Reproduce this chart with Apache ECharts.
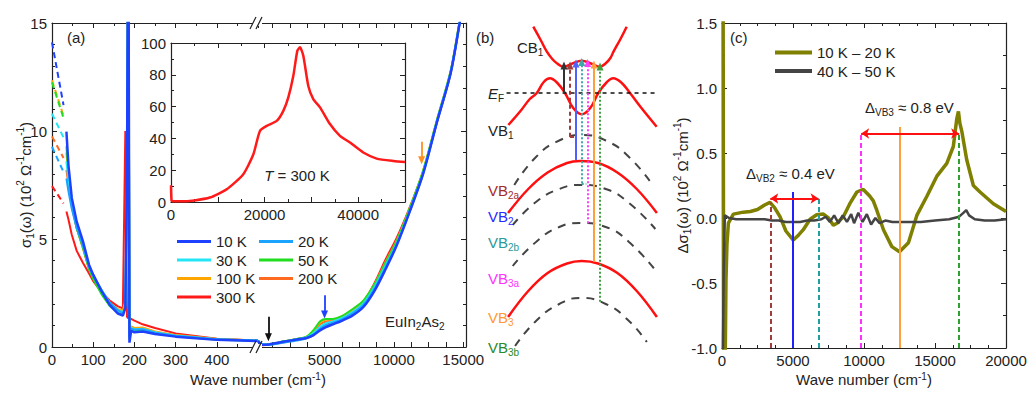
<!DOCTYPE html>
<html>
<head>
<meta charset="utf-8">
<script src="https://cdn.jsdelivr.net/npm/echarts@6/dist/echarts.min.js"></script>
<style>
html, body { margin: 0; padding: 0; background: #fff; }
#chart { width: 1036px; height: 396px; }
</style>
</head>
<body>
<div id="chart"></div>
<script>
// ---- (a) sigma1 for each temperature ----
var temps = ['10 K', '20 K', '30 K', '50 K', '100 K', '200 K', '300 K'];
var tempColors = ['#1e40ff', '#1aa3ff', '#22e5f5', '#20dd20', '#ffa500', '#ff6a20', '#ff1a1a'];

// low frequency extrapolation (dashed)
var extrapW = [0, 28];
var extrapVals = [[14.1, 11.2], [9.27, 8.1], [10.8, 9.7], [12.25, 10.6], [12.35, 10.7], [9.75, 8.75], [7.45, 6.65]];

// far infrared part, left of the axis break
var farW = [35, 40, 48, 60, 75, 90, 100, 120, 140, 160, 172, 178, 182, 184, 186, 188, 192, 200, 220, 250, 300, 400, 500];
var farVals = [
	[9.97, 8.4, 6.9, 5.8, 4.9, 3.8, 3.35, 2.6, 1.95, 1.55, 1.45, 1.8, 8.0, 16, 16, 0.2, 0.75, 0.68, 0.72, 0.6, 0.48, 0.33, 0.28],
	[7.8, 7.2, 6.4, 5.5, 4.7, 3.7, 3.3, 2.65, 2.05, 1.7, 1.55, 1.9, 7.5, 16, 16, 0.45, 0.85, 0.8, 0.82, 0.66, 0.52, 0.36, 0.3],
	[8.6, 7.7, 6.6, 5.6, 4.75, 3.7, 3.3, 2.65, 2.05, 1.7, 1.6, 1.95, 7.5, 16, 16, 0.5, 0.88, 0.82, 0.85, 0.68, 0.53, 0.36, 0.3],
	[9.3, 8.0, 6.6, 5.5, 4.6, 3.6, 3.15, 2.45, 1.9, 1.58, 1.5, 1.85, 7.8, 16, 16, 0.35, 0.8, 0.74, 0.78, 0.63, 0.5, 0.34, 0.29],
	[9.0, 7.9, 6.6, 5.5, 4.6, 3.6, 3.2, 2.55, 2.0, 1.75, 1.7, 2.1, 7.0, 16, 16, 0.6, 0.95, 0.88, 0.9, 0.72, 0.55, 0.37, 0.3],
	[8.2, 7.5, 6.5, 5.5, 4.6, 3.6, 3.2, 2.55, 2.05, 1.72, 1.65, 2.0, 7.0, 16, 16, 0.55, 0.9, 0.85, 0.88, 0.7, 0.55, 0.37, 0.3],
	[6.27, 5.9, 5.2, 4.45, 3.9, 3.4, 3.05, 2.55, 2.15, 1.88, 1.79, 10.0, 1.4, 1.35, 1.33, 1.32, 1.3, 1.22, 1.05, 0.88, 0.63, 0.38, 0.3]
];

// mid / near infrared part, right of the break
var nearW = [200, 500, 1000, 2000, 3000, 3700, 4200, 4700, 5100, 5600, 6200, 7000, 7800, 8600, 9400, 10200, 11100, 12100, 13100, 14100, 14800, 15200];
var nearVals = [
	[0.28, 0.1, 0.12, 0.24, 0.35, 0.42, 0.55, 0.78, 0.92, 1.05, 1.2, 1.45, 1.85, 2.6, 3.6, 4.7, 6.2, 8.0, 10.4, 12.7, 15.2, 16.5],
	[0.3, 0.12, 0.1, 0.2, 0.3, 0.4, 0.58, 0.85, 1.0, 1.12, 1.27, 1.55, 1.95, 2.7, 3.7, 4.75, 6.2, 8.0, 10.4, 12.7, 15.2, 16.5],
	[0.3, 0.13, 0.12, 0.24, 0.36, 0.45, 0.65, 0.95, 1.1, 1.18, 1.32, 1.62, 2.02, 2.78, 3.78, 4.8, 6.25, 8.05, 10.45, 12.75, 15.2, 16.5],
	[0.29, 0.12, 0.13, 0.25, 0.37, 0.48, 0.78, 1.2, 1.3, 1.3, 1.42, 1.75, 2.15, 2.9, 3.9, 4.9, 6.35, 8.15, 10.5, 12.8, 15.3, 16.5],
	[0.3, 0.12, 0.12, 0.25, 0.37, 0.47, 0.75, 1.15, 1.27, 1.28, 1.4, 1.72, 2.12, 2.88, 3.9, 4.9, 6.35, 8.15, 10.5, 12.8, 15.3, 16.5],
	[0.3, 0.12, 0.12, 0.24, 0.36, 0.45, 0.68, 1.05, 1.18, 1.22, 1.36, 1.68, 2.1, 2.9, 3.95, 4.95, 6.35, 8.1, 10.45, 12.75, 15.2, 16.5],
	[0.3, 0.08, 0.1, 0.22, 0.33, 0.42, 0.55, 0.85, 1.02, 1.15, 1.3, 1.62, 2.1, 2.95, 4.05, 5.05, 6.4, 8.1, 10.4, 12.7, 15.2, 16.5]
];
var nearTicks = [1250, 2500, 3750, 5000, 6250, 7500, 8750, 10000, 11250, 12500, 13750, 15000];
var nearLabels = [5000, 10000, 15000];

// inset: 300 K over the full range
var insetW = [0, 120, 400, 2000, 5000, 8300, 11900, 15450, 17600, 19000, 20450, 22600, 24000, 25070, 26140, 27000, 27560, 28270, 29340, 30400, 31840, 33970, 36100, 38250, 41090, 43950, 47500, 50000];
var insetVals = [10.5, 0.8, 0.4, 0.4, 1.0, 2.8, 8.0, 17.5, 30, 44.7, 47.9, 51, 57.3, 65.8, 79.4, 95.2, 97.3, 92, 73, 64.7, 59.5, 49, 41.6, 37.4, 31.1, 27.3, 25.8, 25.2];

// ---- (b) band sketch, k vs E (E_F = 0) ----
var bandCB1 = [[-0.635, 6.63], [-0.54, 5.3], [-0.46, 4.13], [-0.39, 3.4], [-0.33, 2.97], [-0.25, 2.63], [-0.13, 2.95], [-0.01, 3.23], [0.11, 2.95], [0.226, 2.63], [0.3, 2.97], [0.36, 3.5], [0.4, 4.13], [0.49, 5.4], [0.57, 6.63]];
var bandVB1 = [[-0.957, -3.2], [-0.8, -1.8], [-0.68, -0.6], [-0.59, 0], [-0.5, 1.1], [-0.42, 1.47], [-0.33, 1.05], [-0.226, 0], [-0.12, -1.5], [-0.01, -2.13], [0.1, -1.5], [0.204, 0], [0.31, 1.05], [0.397, 1.47], [0.5, 1.05], [0.613, 0], [0.75, -1.4], [0.957, -3.37]];
var bandVB2 = [[-0.96, -12.0], [-0.7, -9.6], [-0.45, -7.95], [-0.2, -7.0], [-0.03, -6.8], [0.2, -7.0], [0.45, -7.95], [0.7, -9.6], [0.96, -12.0]];
var bandVB3 = [[-0.96, -22.4], [-0.7, -19.8], [-0.45, -18.0], [-0.2, -17.05], [-0.01, -16.8], [0.2, -17.05], [0.45, -18.0], [0.7, -19.8], [0.96, -22.4]];
var bandVB2a = [[-0.88, -9.2], [-0.6, -6.4], [-0.3, -4.75], [0.0, -4.2], [0.3, -4.75], [0.6, -6.4], [0.92, -9.35]];
var bandVB2b = [[-0.9, -13.2], [-0.6, -10.9], [-0.3, -9.6], [-0.03, -9.2], [0.3, -9.6], [0.6, -11.0], [0.94, -13.6]];
var bandVB3a = [[-0.9, -17.3], [-0.6, -14.9], [-0.3, -13.4], [-0.03, -13.0], [0.3, -13.4], [0.6, -14.9], [0.97, -18.0]];
var bandVB3b = [[-0.87, -25.3], [-0.6, -22.8], [-0.3, -21.1], [-0.03, -20.5], [0.3, -21.1], [0.6, -22.8], [0.83, -24.9]];
var fermiK = [-0.98, 0.94];

var transK = [-0.239, -0.161, -0.084, -0.01, 0.067, 0.148, 0.226];
var transFrom = [0, -4.37, -6.7, -9.03, -13.03, -16.87, -20.87];
var transTo = [2.75, 2.75, 2.95, 3.1, 3.0, 2.85, 2.65];
var transColors = ['#333333', '#a33b3b', '#5060ff', '#40a8a8', '#ff40ff', '#ffa040', '#40a040'];
var transTypes = ['solid', [4, 3], 'solid', 'dotted', 'dotted', 'solid', 'dotted'];

// ---- (c) difference spectra ----
var diff10to20 = [[0, 1.6], [80, 1.6], [120, -1.05], [230, -1.05], [280, -0.48], [350, -0.2], [450, -0.04], [800, 0.03], [1500, 0.045], [2000, 0.05], [2500, 0.065], [3000, 0.1], [3380, 0.12], [3700, 0.08], [4085, 0.01], [4500, -0.1], [5020, -0.17], [5400, -0.13], [5725, -0.09], [6200, -0.01], [6670, 0.025], [7140, 0.03], [7500, 0.0], [7840, -0.055], [8100, -0.04], [8545, 0.01], [9000, 0.11], [9500, 0.2], [9950, 0.22], [10400, 0.17], [10660, 0.13], [10900, 0.06], [11370, -0.09], [11960, -0.22], [12500, -0.26], [13130, -0.19], [13720, 0.02], [14420, 0.165], [15120, 0.32], [15830, 0.42], [16290, 0.55], [16530, 0.76], [16650, 0.82], [16750, 0.73], [16900, 0.66], [17230, 0.45], [17700, 0.25], [18170, 0.2], [19110, 0.11], [20000, 0.05]];
var diff40to50 = [[0, -1.05], [60, -1.05], [120, -0.4], [200, 0.02], [500, 0.0], [1000, -0.01], [2000, -0.01], [3000, -0.01], [3500, -0.02], [4000, -0.02], [4500, -0.03], [5000, -0.03], [5500, -0.03], [6000, -0.02], [6500, -0.02], [7000, -0.01], [7300, 0.01], [7600, -0.03], [7900, 0.02], [8200, -0.04], [8500, 0.02], [8800, -0.03], [9100, 0.03], [9300, -0.04], [9600, 0.04], [9900, -0.03], [10200, 0.03], [10500, -0.05], [10800, 0.0], [11100, -0.04], [11500, -0.02], [12000, -0.03], [13000, -0.03], [14000, -0.03], [15000, -0.02], [16000, -0.01], [16700, 0.01], [17000, 0.04], [17200, 0.06], [17400, 0.02], [17800, -0.01], [18500, -0.02], [19200, -0.02], [20000, -0.01]];

var gapW = [3400, 5000, 6800, 9800, 12500, 16700];
var gapTop = [0.12, 0.2, 0.15, 0.65, 0.7, 0.65];
var gapColors = ['#a03c3c', '#2020ff', '#20a0a0', '#ff30ff', '#ffa040', '#30a030'];
var gapTypes = [[5, 3], 'solid', [5, 3], [5, 3], 'solid', [5, 3]];


var FONT = '"Liberation Sans", Arial, sans-serif';
var ink = '#222';
var rich = {
	sub: { fontSize: 10, lineHeight: 10, verticalAlign: 'bottom', fontFamily: FONT },
	sup: { fontSize: 10, lineHeight: 10, verticalAlign: 'top', fontFamily: FONT },
	i: { fontStyle: 'italic', fontSize: 15, fontFamily: FONT }
};

function pairs(xs, ys) {
	return xs.map(function (x, i) { return [x, ys[i]]; });
}

function merge(a, b) {
	for (var k in b) {
		if (b[k] && typeof b[k] === 'object' && !Array.isArray(b[k]) && a[k] && typeof a[k] === 'object') {
			merge(a[k], b[k]);
		} else {
			a[k] = b[k];
		}
	}
	return a;
}

function plain(v) {
	return String(v);
}

function axis(extra) {
	return merge({
		type: 'value',
		nameMoveOverlap: false,
		axisLine: { show: true, onZero: false, lineStyle: { color: ink, width: 1.2 } },
		axisTick: { show: true, inside: true, length: 5, lineStyle: { color: ink, width: 1 } },
		minorTick: { show: false, length: 3, lineStyle: { color: ink, width: 1 } },
		splitLine: { show: false },
		minorSplitLine: { show: false },
		axisLabel: { show: true, color: ink, fontSize: 15, fontFamily: FONT, margin: 5, formatter: plain },
		axisPointer: { show: false }
	}, extra);
}

function grid(l, t, w, h) {
	return { left: l, top: t, width: w, height: h, containLabel: false, outerBoundsMode: 'none' };
}

function text(x, y, str, color, align, lh) {
	return {
		type: 'text', z: 100,
		style: {
			x: x, y: y, text: str, fill: color || ink, font: '15px ' + FONT, fontSize: 15, fontFamily: FONT,
			lineHeight: lh || 20, align: align || 'left', textAlign: align || 'left',
			verticalAlign: 'middle', textVerticalAlign: 'middle', rich: rich
		}
	};
}

function breakMark(y) {
	return [
		{ type: 'rect', z: 100, shape: { x: 253, y: y - 3, width: 9, height: 6 }, style: { fill: '#fff' } },
		{ type: 'line', z: 101, shape: { x1: 250, y1: y + 6, x2: 256, y2: y - 6 }, style: { stroke: ink, lineWidth: 1.2 } },
		{ type: 'line', z: 101, shape: { x1: 256, y1: y + 6, x2: 262, y2: y - 6 }, style: { stroke: ink, lineWidth: 1.2 } }
	];
}

function vline(x, y1, y2, color, type, width, arrow) {
	return [
		{ coord: [x, y1], symbol: 'none', lineStyle: { color: color, type: type, width: width }, itemStyle: { color: color } },
		{ coord: [x, y2], symbol: arrow ? 'triangle' : 'none', symbolSize: arrow ? [7, 8] : 0 }
	];
}

var markBase = { silent: true, animation: false, label: { show: false }, emphasis: { disabled: true } };

// series
var series = [];
var order = [6, 5, 4, 3, 2, 1, 0];
order.forEach(function (i) {
	series.push({
		name: temps[i], type: 'line', xAxisIndex: 0, yAxisIndex: 0,
		data: pairs(farW, farVals[i]), symbol: 'none',
		lineStyle: { color: tempColors[i], width: i === 0 ? 2.5 : 2 }, itemStyle: { color: tempColors[i] }
	});
});
order.forEach(function (i) {
	series.push({
		name: temps[i], type: 'line', xAxisIndex: 2, yAxisIndex: 1,
		data: pairs(nearW, nearVals[i]), symbol: 'none', smooth: 0.3,
		lineStyle: { color: tempColors[i], width: i === 0 ? 2.5 : 2 }, itemStyle: { color: tempColors[i] }
	});
});
order.forEach(function (i) {
	series.push({
		name: temps[i], type: 'line', xAxisIndex: 0, yAxisIndex: 0,
		data: pairs(extrapW, extrapVals[i]), symbol: 'none',
		lineStyle: { color: tempColors[i], width: 2, type: [6, 4] }, itemStyle: { color: tempColors[i] }
	});
});

// arrows of panel (a)
series.push({
	type: 'line', xAxisIndex: 2, yAxisIndex: 1, data: [[15200, 20]], symbol: 'none',
	lineStyle: { width: 0 },
	markLine: merge({
		data: [
			vline(950, 1.4, 0.45, '#111', 'solid', 1.8, true),
			vline(5000, 2.4, 1.5, '#2040ff', 'solid', 1.8, true),
			vline(12000, 9.5, 8.65, '#ff9020', 'solid', 1.8, true)
		]
	}, markBase)
});

series.push({
	type: 'line', xAxisIndex: 4, yAxisIndex: 2, data: pairs(insetW, insetVals), symbol: 'none', smooth: 0.2,
	lineStyle: { color: '#ff1a1a', width: 2.5 }
});

// panel (b)
[bandVB2a, bandVB2b, bandVB3a, bandVB3b].forEach(function (b) {
	series.push({
		type: 'line', xAxisIndex: 6, yAxisIndex: 4, data: b, symbol: 'none', smooth: 0.5,
		lineStyle: { color: '#444', width: 2, type: [8, 7] }
	});
});
[bandCB1, bandVB1, bandVB2, bandVB3].forEach(function (b) {
	series.push({
		type: 'line', xAxisIndex: 6, yAxisIndex: 4, data: b, symbol: 'none', smooth: 0.4,
		lineStyle: { color: '#ff1010', width: 2.5 }
	});
});
var transLines = transK.map(function (k, i) {
	return vline(k, transFrom[i], transTo[i], transColors[i], transTypes[i], 2, true);
});
transLines.push([
	{ coord: [transK[1], transFrom[1]], symbol: 'none', lineStyle: { color: transColors[1], type: [4, 3], width: 2 } },
	{ coord: [-0.075, transFrom[1]], symbol: 'none' }
]);
transLines.push([
	{ coord: [transK[3], transFrom[3]], symbol: 'none', lineStyle: { color: transColors[3], type: 'dotted', width: 2 } },
	{ coord: [0.05, transFrom[3]], symbol: 'none' }
]);
series.push({
	type: 'line', xAxisIndex: 6, yAxisIndex: 4, data: pairs(fermiK, [0, 0]), symbol: 'none',
	lineStyle: { color: '#111', width: 1.5, type: [4, 4] },
	markLine: merge({ data: transLines }, markBase)
});

// panel (c)
series.push({
	name: '10 K – 20 K', type: 'line', xAxisIndex: 7, yAxisIndex: 5, data: diff10to20, symbol: 'none',
	lineStyle: { color: '#7f7f00', width: 3.5 }, itemStyle: { color: '#7f7f00' }
});
var gapLines = gapW.map(function (w, i) {
	return vline(w, -1, gapTop[i], gapColors[i], gapTypes[i], 2, false);
});
gapLines.push([
	{ coord: [gapW[0], 0.15], symbol: 'arrow', symbolSize: [8, 8], lineStyle: { color: '#ff1010', width: 1.8, type: 'solid' }, itemStyle: { color: '#ff1010' } },
	{ coord: [gapW[2], 0.15], symbol: 'arrow', symbolSize: [8, 8] }
]);
gapLines.push([
	{ coord: [gapW[3], 0.65], symbol: 'arrow', symbolSize: [8, 8], lineStyle: { color: '#ff1010', width: 1.8, type: 'solid' }, itemStyle: { color: '#ff1010' } },
	{ coord: [gapW[5], 0.65], symbol: 'arrow', symbolSize: [8, 8] }
]);
series.push({
	name: '40 K – 50 K', type: 'line', xAxisIndex: 7, yAxisIndex: 5, data: diff40to50, symbol: 'none',
	lineStyle: { color: '#444', width: 2.5 }, itemStyle: { color: '#444' },
	markLine: merge({ data: gapLines }, markBase)
});

var legendText = { fontSize: 15, color: ink, fontFamily: FONT };
function legendBox(names, left, top, w, h) {
	return {
		data: names, orient: 'vertical', left: left, top: top, icon: 'rect',
		itemWidth: w, itemHeight: h, itemGap: 3.5, selectedMode: false, textStyle: legendText
	};
}

var graphics = [
	text(67, 37, '(a)'),
	text(297, 175, '{i|T} = 300 K', ink, 'center'),
	text(385, 321, 'EuIn{sub|2}As{sub|2}'),
	text(258, 379, 'Wave number (cm{sup|-1})', ink, 'center', 16),
	text(476, 37, '(b)'),
	text(517, 47, 'CB{sub|1}'),
	text(488, 93, '{i|E}{sub|F}'),
	text(488, 130, 'VB{sub|1}'),
	text(488, 190, 'VB{sub|2a}', '#a52a2a'),
	text(488, 216, 'VB{sub|2}', '#2a2aff'),
	text(488, 242, 'VB{sub|2b}', '#2a9a9a'),
	text(488, 278, 'VB{sub|3a}', '#ff33ff'),
	text(488, 317, 'VB{sub|3}', '#ff9933'),
	text(488, 347, 'VB{sub|3b}', '#2a8a2a'),
	text(730, 37, '(c)'),
	text(746, 173, 'Δ{sub|VB2} ≈ 0.4 eV'),
	text(865, 107, 'Δ{sub|VB3} ≈ 0.8 eV')
].concat(breakMark(23), breakMark(347));

var option = {
	backgroundColor: '#fff',
	animation: false,
	textStyle: { fontFamily: FONT },
	grid: [
		grid(52, 23, 206, 324),
		grid(258, 23, 208, 324),
		grid(171, 43, 234, 159),
		grid(505, 23, 155, 330),
		grid(722, 23, 284, 325)
	],
	xAxis: [
		axis({ gridIndex: 0, position: 'bottom', min: 0, max: 500, interval: 100,
			minorTick: { show: true, splitNumber: 2 },
			axisLabel: { formatter: function (v) { return v === 500 ? '' : String(v); } } }),
		axis({ gridIndex: 0, position: 'top', min: 0, max: 500, interval: 100,
			minorTick: { show: true, splitNumber: 2 }, axisLabel: { show: false } }),
		axis({ gridIndex: 1, position: 'bottom', min: 200, max: 15200,
			axisTick: { customValues: nearTicks }, axisLabel: { customValues: nearLabels } }),
		axis({ gridIndex: 1, position: 'top', min: 200, max: 15200,
			axisTick: { customValues: nearTicks }, axisLabel: { show: false } }),
		axis({ gridIndex: 2, position: 'bottom', min: 0, max: 50000, interval: 10000,
			minorTick: { show: true, splitNumber: 2 },
			axisLabel: { formatter: function (v) { return v % 20000 === 0 ? String(v) : ''; } } }),
		axis({ gridIndex: 2, position: 'top', min: 0, max: 50000, interval: 10000,
			minorTick: { show: true, splitNumber: 2 }, axisLabel: { show: false } }),
		{ type: 'value', gridIndex: 3, min: -1, max: 1, show: false },
		axis({ gridIndex: 4, position: 'bottom', min: 0, max: 20000, interval: 5000,
			minorTick: { show: true, splitNumber: 4 },
			name: 'Wave number (cm{sup|-1})', nameLocation: 'middle', nameGap: 23,
			nameTextStyle: { fontSize: 15, color: ink, fontFamily: FONT, lineHeight: 16, rich: rich } }),
		axis({ gridIndex: 4, position: 'top', min: 0, max: 20000, interval: 5000,
			minorTick: { show: true, splitNumber: 4 }, axisLabel: { show: false } })
	],
	yAxis: [
		axis({ gridIndex: 0, position: 'left', min: 0, max: 15, interval: 5,
			minorTick: { show: true, splitNumber: 5 },
			name: 'σ{sub|1}(ω) (10{sup|2} Ω{sup|-1}cm{sup|-1})', nameLocation: 'middle', nameGap: 17,
			nameTextStyle: { fontSize: 15, color: ink, fontFamily: FONT, lineHeight: 20, rich: rich } }),
		axis({ gridIndex: 1, position: 'right', min: 0, max: 15, interval: 5,
			minorTick: { show: true, splitNumber: 5 }, axisLabel: { show: false } }),
		axis({ gridIndex: 2, position: 'left', min: 0, max: 100, interval: 20,
			minorTick: { show: true, splitNumber: 2 } }),
		axis({ gridIndex: 2, position: 'right', min: 0, max: 100, interval: 20,
			minorTick: { show: true, splitNumber: 2 }, axisLabel: { show: false } }),
		{ type: 'value', gridIndex: 3, min: -26, max: 7, show: false },
		axis({ gridIndex: 4, position: 'left', min: -1, max: 1.5, interval: 0.5,
			minorTick: { show: true, splitNumber: 2 },
			axisLabel: { formatter: function (v) { return v.toFixed(1); } },
			name: 'Δσ{sub|1}(ω) (10{sup|2} Ω{sup|-1}cm{sup|-1})', nameLocation: 'middle', nameGap: 30,
			nameTextStyle: { fontSize: 15, color: ink, fontFamily: FONT, lineHeight: 20, rich: rich } }),
		axis({ gridIndex: 4, position: 'right', min: -1, max: 1.5, interval: 0.5,
			minorTick: { show: true, splitNumber: 2 }, axisLabel: { show: false } })
	],
	legend: [
		legendBox(['10 K', '30 K', '100 K', '300 K'], 172, 229, 34, 3),
		legendBox(['20 K', '50 K', '200 K'], 254, 229, 34, 3),
		legendBox(['10 K – 20 K', '40 K – 50 K'], 770, 40, 37, 4)
	],
	graphic: graphics,
	series: series
};

var chart = echarts.init(document.getElementById('chart'), null, { renderer: 'svg' });
chart.setOption(option);
</script>
</body>
</html>
